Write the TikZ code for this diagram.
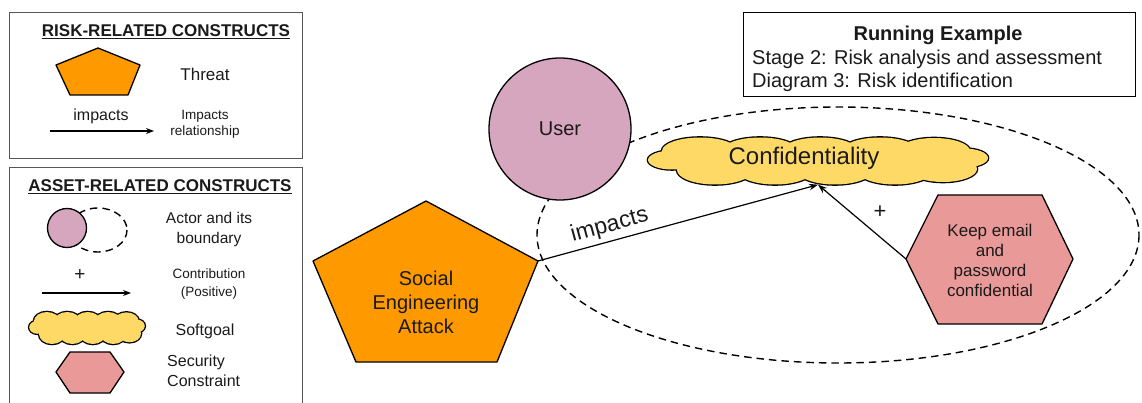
\documentclass[tikz,border=0pt]{standalone}
\usepackage{fontspec}
\setmainfont{Liberation Sans}
\usetikzlibrary{arrows.meta,shapes.geometric}

\definecolor{threatorange}{HTML}{FF9900}
\definecolor{actorpink}{HTML}{D5A6BD}
\definecolor{softyellow}{HTML}{FFD966}
\definecolor{constraintred}{HTML}{EA9999}
\definecolor{framegray}{HTML}{555555}
\definecolor{inkblack}{HTML}{1A1A1A}

\newcommand\fsz[2]{\fontsize{#1}{#2}\selectfont}

% puffs of a softgoal cloud, drawn around the origin (340 x 47 units)
\newcommand\cloudpuffs[1]{%
  \path[#1] (-118,-10) ellipse [x radius=38, y radius=13.5]
            (-58,-10)  ellipse [x radius=38, y radius=13.5]
            (2,-10)    ellipse [x radius=38, y radius=13.5]
            (62,-10)   ellipse [x radius=38, y radius=13.5]
            (116,-10)  ellipse [x radius=36, y radius=13]
            (-103,9)   ellipse [x radius=38, y radius=14.5]
            (-43,9)    ellipse [x radius=38, y radius=14.5]
            (17,9)     ellipse [x radius=38, y radius=14.5]
            (77,9)     ellipse [x radius=38, y radius=14.5]
            (125,8)    ellipse [x radius=34, y radius=13]
            (0,0)      ellipse [x radius=150, y radius=16]
            (-146,-1)  ellipse [x radius=24, y radius=9.5]
            (146,-3)   ellipse [x radius=24, y radius=9.5];}

\tikzset{
  shapeline/.style={draw=black, line width=1.3pt, line join=round},
  legendframe/.style={draw=framegray, line width=1pt},
  link/.style={draw=black, line width=1.2pt, -{Stealth[length=9pt,width=6.5pt]}},
  leglink/.style={draw=black, line width=1.2pt, -{Stealth[length=8pt,width=6pt]}},
  boundary/.style={draw=black, line width=1.4pt, dash pattern=on 7.5pt off 5pt},
  threatshape/.style={shapeline, fill=threatorange},
  constraintshape/.style={shapeline, fill=constraintred},
  actor/.style={circle, shapeline, fill=actorpink, inner sep=0pt},
  softgoalcloud/.pic={
    \cloudpuffs{draw=black, line width=2.6pt}
    \cloudpuffs{fill=softyellow}
  },
  cloudanchor/.style={ellipse, inner sep=0pt},
  txt/.style={text=inkblack, inner sep=0pt, align=center},
  legtitle/.style={txt, font=\fsz{17}{20}\bfseries},
}

\begin{document}
\begin{tikzpicture}[x=1pt, y=-1pt]
\useasboundingbox (0,0) rectangle (1142,403);

% ---------- legend: risk-related constructs ----------
\draw[legendframe] (9,13) rectangle (302,159);
\node[legtitle] (risktitle) at (166,32) {\underline{RISK-RELATED CONSTRUCTS}};
\draw[threatshape] (98,48) -- (140,65) -- (128,95) -- (70,95) -- (56,65) -- cycle;
\node[txt, font=\fsz{17}{20}] (threatlbl) at (205,74) {Threat};
\node[txt, font=\fsz{16}{19}] (implbl) at (101,116) {impacts};
\coordinate (impfrom) at (50,131);
\coordinate (impto) at (154,131);
\draw[leglink] (impfrom) -- (impto);
\node[txt, font=\fsz{13.5}{16}] (impdesc) at (205,124) {Impacts\\relationship};

% ---------- legend: asset-related constructs ----------
\draw[legendframe] (9,404) -- (9,168) -- (302,168) -- (302,404);
\node[legtitle] (assettitle) at (160,187) {\underline{ASSET-RELATED CONSTRUCTS}};
\draw[boundary] (98,230) ellipse [x radius=29, y radius=22];
\node[actor, minimum size=39pt] (legactor) at (67,228) {};
\node[txt, font=\fsz{15.5}{20}] (actordesc) at (209,229) {Actor and its\\boundary};
\node[txt, font=\fsz{19}{19}] (plusleg) at (80,275) {+};
\coordinate (contfrom) at (42,293);
\coordinate (contto) at (131,293);
\draw[leglink] (contfrom) -- (contto);
\node[txt, font=\fsz{13.5}{18}] (contdesc) at (209,284) {Contribution\\(Positive)};
\pic[xscale=0.34, yscale=0.68] at (87,328) {softgoalcloud};
\node[cloudanchor, minimum width=115pt, minimum height=32pt] (legsoft) at (87,328) {};
\node[txt, font=\fsz{16}{19}] (softdesc) at (205,331) {Softgoal};
\draw[constraintshape] (56,372) -- (70,352) -- (110,352) -- (124,372) -- (110,393) -- (70,393) -- cycle;
\node[txt, font=\fsz{16}{20}, anchor=west, align=left] (constdesc) at (167,371) {Security\\Constraint};

% ---------- running example caption ----------
\draw[line width=1pt, draw=black] (743,13) rectangle (1135,97);
\node[txt, font=\fsz{20}{23}\bfseries] (captitle) at (938,35) {Running Example};
\node[txt, font=\fsz{20}{23}, anchor=west] (capstage) at (752,59) {Stage 2: Risk analysis and assessment};
\node[txt, font=\fsz{20}{23}, anchor=west] (capdiag) at (752,82) {Diagram 3: Risk identification};

% ---------- actor boundary and actor ----------
\draw[boundary] (838,235) ellipse [x radius=301, y radius=128];
\node[actor, minimum size=142pt, font=\fsz{20}{24}, text=inkblack] (user) at (560,129) {User};

% ---------- softgoal ----------
\pic at (818,161) {softgoalcloud};
\node[cloudanchor, minimum width=340pt, minimum height=47pt] (conf) at (818,161) {};
\node[txt, font=\fsz{24}{28}] (conflbl) at (804,158) {Confidentiality};

% ---------- threat ----------
\coordinate (seatop) at (426,201);
\coordinate (searight) at (538,261);
\coordinate (seabr) at (497,362);
\coordinate (seabl) at (356,362);
\coordinate (sealeft) at (313,261);
\draw[threatshape] (seatop) -- (searight) -- (seabr) -- (seabl) -- (sealeft) -- cycle;
\node[txt, font=\fsz{20}{24}] (sea) at (426,302) {Social\\Engineering\\Attack};

% ---------- security constraint ----------
\coordinate (kepleft) at (906,259);
\draw[constraintshape] (kepleft) -- (938,195) -- (1042,195) -- (1073,259) -- (1042,324) -- (938,324) -- cycle;
\node[txt, font=\fsz{17}{20}] (kep) at (990,260) {Keep email\\and\\password\\confidential};

% ---------- links ----------
\draw[link] (searight) -- node[pos=0.27, above=4pt, sloped, txt, font=\fsz{23}{26}] (implink) {impacts} (conf.south);
\draw[link] (kepleft) -- (conf.south);
\node[txt, font=\fsz{22}{22}] (pluslink) at (880,212) {+};
\end{tikzpicture}
\end{document}
